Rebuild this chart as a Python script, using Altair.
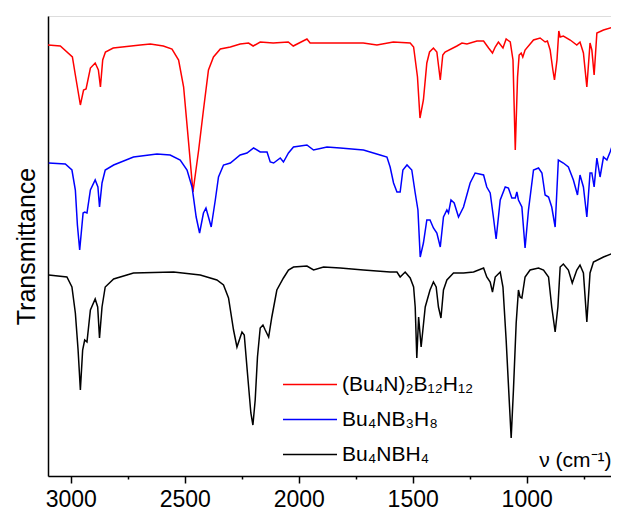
import altair as alt
import pandas as pd

# Wavenumbers (cm-1) and offset transmittance (a.u.)
red_wn = [3100, 3046, 2993, 2980, 2958, 2944, 2933, 2914, 2893, 2879, 2870, 2860, 2848, 2814,
          2695, 2651, 2594, 2556, 2527, 2505, 2483, 2464, 2439, 2418, 2396, 2374, 2344, 2300,
          2257, 2220, 2200, 2169, 2112, 2046, 2024, 1964, 1950, 1893, 1862, 1818, 1717, 1657,
          1585, 1511, 1496, 1479, 1468, 1453, 1438, 1426, 1409, 1394, 1379, 1368, 1358, 1306,
          1284, 1262, 1218, 1189, 1167, 1150, 1138, 1124, 1104, 1090, 1072, 1060, 1050, 1040,
          1033, 1024, 1017, 1007, 970, 941, 919, 909, 897, 885, 878, 867, 859, 853, 839, 809,
          780, 766, 751, 736, 722, 714, 704, 692, 663, 619, 597]
red_t = [43.1, 43.0, 41.9, 40.1, 37.1, 38.6, 38.7, 40.8, 41.3, 40.6, 38.9, 41.6, 42.4, 42.8,
         43.1, 43.2, 43.0, 42.7, 41.6, 38.9, 33.3, 28.4, 32.6, 36.6, 40.6, 41.9, 42.7, 42.9,
         43.2, 43.3, 43.0, 43.4, 43.3, 43.4, 43.0, 43.7, 43.3, 43.3, 43.3, 43.3, 43.3, 43.1,
         43.4, 43.3, 42.9, 39.9, 35.8, 37.6, 41.3, 42.4, 42.8, 42.4, 39.6, 42.1, 42.4, 43.0,
         43.3, 43.2, 43.5, 43.5, 42.8, 42.3, 42.9, 43.4, 42.8, 43.7, 43.4, 41.6, 32.6, 39.9,
         42.1, 42.3, 41.9, 42.6, 43.6, 43.8, 43.4, 43.5, 42.6, 40.6, 39.6, 41.6, 44.5, 43.9,
         44.0, 43.6, 43.1, 43.4, 42.3, 38.9, 43.3, 42.6, 40.1, 44.3, 44.6, 44.9, 45.1]

blue_wn = [3097, 3024, 2995, 2980, 2971, 2961, 2946, 2939, 2929, 2914, 2893, 2881, 2874, 2863,
           2849, 2812, 2725, 2622, 2564, 2520, 2490, 2468, 2450, 2435, 2418, 2407, 2396, 2384,
           2366, 2352, 2330, 2300, 2257, 2227, 2198, 2169, 2139, 2125, 2110, 2081, 2067, 2045,
           2023, 1964, 1935, 1876, 1818, 1716, 1643, 1613, 1599, 1584, 1569, 1555, 1543, 1525,
           1504, 1489, 1477, 1467, 1453, 1438, 1424, 1409, 1394, 1379, 1365, 1350, 1343, 1332,
           1318, 1299, 1277, 1248, 1226, 1189, 1175, 1160, 1146, 1134, 1116, 1094, 1080, 1065,
           1050, 1043, 1036, 1021, 1007, 992, 970, 948, 933, 919, 904, 890, 875, 861, 839, 817,
           795, 777, 766, 751, 736, 722, 714, 704, 692, 678, 663, 648, 634, 619, 597]
blue_t = [31.3, 31.2, 30.6, 28.6, 25.1, 22.6, 26.3, 26.4, 26.3, 28.6, 29.6, 28.9, 26.9, 29.3,
          30.6, 31.1, 31.9, 32.2, 32.1, 31.6, 30.6, 28.9, 25.9, 24.3, 26.3, 26.8, 25.9, 24.9,
          27.6, 29.9, 31.1, 31.3, 32.1, 32.3, 32.8, 32.4, 32.4, 31.4, 31.3, 31.8, 31.4, 32.3,
          32.9, 33.1, 32.6, 32.9, 32.8, 32.6, 32.1, 31.9, 30.9, 29.3, 28.4, 28.4, 30.6, 31.1,
          30.6, 28.3, 26.6, 21.9, 23.3, 25.6, 25.6, 24.8, 24.3, 22.9, 25.9, 26.6, 26.3, 27.6,
          27.3, 25.9, 26.9, 29.3, 30.3, 30.1, 28.9, 28.3, 25.9, 23.7, 27.6, 28.9, 28.8, 27.8,
          27.8, 28.4, 27.6, 26.9, 22.8, 26.6, 30.6, 30.8, 30.3, 28.1, 27.9, 26.9, 24.9, 31.6,
          31.3, 30.9, 29.6, 28.1, 30.1, 28.9, 25.9, 30.3, 30.3, 28.9, 31.8, 29.9, 31.9, 31.6,
          32.4, 33.4, 33.3]

black_wn = [3097, 3017, 2995, 2980, 2968, 2958, 2948, 2939, 2929, 2914, 2893, 2882, 2874, 2863,
            2849, 2812, 2725, 2549, 2432, 2359, 2330, 2308, 2286, 2271, 2249, 2239, 2225, 2210,
            2201, 2191, 2181, 2169, 2157, 2147, 2132, 2118, 2096, 2067, 2045, 2023, 1964, 1935,
            1891, 1818, 1716, 1599, 1569, 1555, 1533, 1511, 1496, 1489, 1482, 1474, 1463, 1445,
            1424, 1409, 1397, 1387, 1376, 1365, 1350, 1321, 1277, 1233, 1189, 1175, 1160, 1150,
            1138, 1116, 1104, 1090, 1075, 1068, 1058, 1046, 1036, 1029, 1021, 1007, 985, 948,
            926, 904, 890, 875, 863, 853, 839, 817, 800, 780, 766, 751, 736, 722, 707, 663, 619,
            597]
black_t = [20.1, 19.9, 18.9, 16.3, 12.6, 8.6, 12.6, 13.6, 13.4, 16.6, 17.7, 16.9, 13.8, 16.9,
           18.9, 19.7, 20.3, 20.4, 20.1, 19.6, 19.1, 17.8, 14.6, 12.9, 14.4, 14.1, 10.3, 6.3,
           5.1, 7.6, 11.9, 14.8, 15.1, 14.6, 13.9, 15.9, 18.6, 19.8, 20.6, 20.9, 21.0, 20.6,
           20.9, 20.8, 20.6, 20.4, 20.4, 19.9, 20.4, 19.8, 18.9, 16.9, 11.8, 15.9, 12.9, 16.9,
           18.6, 19.4, 18.9, 16.9, 15.8, 18.6, 19.6, 20.3, 20.3, 20.4, 20.8, 19.9, 19.4, 18.4,
           19.9, 20.4, 18.9, 13.6, 6.9, 3.8, 8.6, 15.3, 18.6, 17.9, 17.8, 19.9, 20.6, 20.8,
           20.6, 19.9, 16.9, 14.4, 16.9, 20.9, 21.2, 20.6, 19.3, 20.6, 21.1, 20.3, 15.4, 20.3,
           21.4, 21.9, 22.3, 22.4]

names = ["(Bu\u2084N)\u2082B\u2081\u2082H\u2081\u2082", "Bu\u2084NB\u2083H\u2088", "Bu\u2084NBH\u2084"]
colors = ["#ff0000", "#0000ff", "#000000"]
major_ticks = [3000, 2750, 2500, 2250, 2000, 1750, 1500, 1250, 1000, 750]

rows = []
for name, wns, ts in zip(names, [red_wn, blue_wn, black_wn], [red_t, blue_t, black_t]):
    for w, t in zip(wns, ts):
        rows.append({"wn": w, "T": t, "sample": name})
df = pd.DataFrame(rows)

FONT = "Liberation Sans"

chart = alt.Chart(df).mark_line(strokeWidth=1.5, clip=True).encode(
    x=alt.X("wn:Q",
            scale=alt.Scale(domain=[3100, 630], nice=False, zero=False),
            axis=alt.Axis(values=major_ticks, format="d",
                          labelExpr="datum.value % 500 === 0 ? datum.label : ''",
                          tickSize={"condition": {"test": "datum.value % 500 === 0", "value": 7}, "value": 3},
                          tickWidth=1.5, tickColor="black",
                          domainColor="black", domainWidth=1.5,
                          labelFont=FONT, labelFontSize=23, labelColor="black", labelPadding=5,
                          grid=False,
                          title="\u03bd (cm\u207b\u00b9)", titleFont=FONT, titleFontSize=21,
                          titleFontWeight="normal", titleColor="black",
                          titleAnchor="end", titleAlign="right", titleBaseline="alphabetic",
                          titleX=563, titleY=-10)),
    y=alt.Y("T:Q",
            scale=alt.Scale(domain=[0, 46], nice=False, zero=False),
            axis=alt.Axis(ticks=False, labels=False, grid=False,
                          domainColor="black", domainWidth=1.5,
                          title="Transmittance", titleFont=FONT, titleFontSize=25,
                          titleFontWeight="normal", titleColor="black", titlePadding=9)),
    color=alt.Color("sample:N",
                    scale=alt.Scale(domain=names, range=colors),
                    sort=names,
                    legend=alt.Legend(title=None, orient="none", legendX=234, legendY=351,
                                      symbolType="stroke", symbolSize=2916, symbolStrokeWidth=1.5,
                                      clipHeight=35, rowPadding=0, padding=0,
                                      labelFont=FONT, labelFontSize=21, labelColor="black",
                                      labelOffset=4, labelLimit=400)),
    detail="sample:N",
).properties(
    width=563, height=460,
    autosize=alt.AutoSizeParams(type="none"),
    padding={"left": 40, "top": 8, "right": 0, "bottom": 37},
).configure_view(stroke=None).configure(background="white")

chart.save("out.html", embed_options={"renderer": "svg", "actions": False})
